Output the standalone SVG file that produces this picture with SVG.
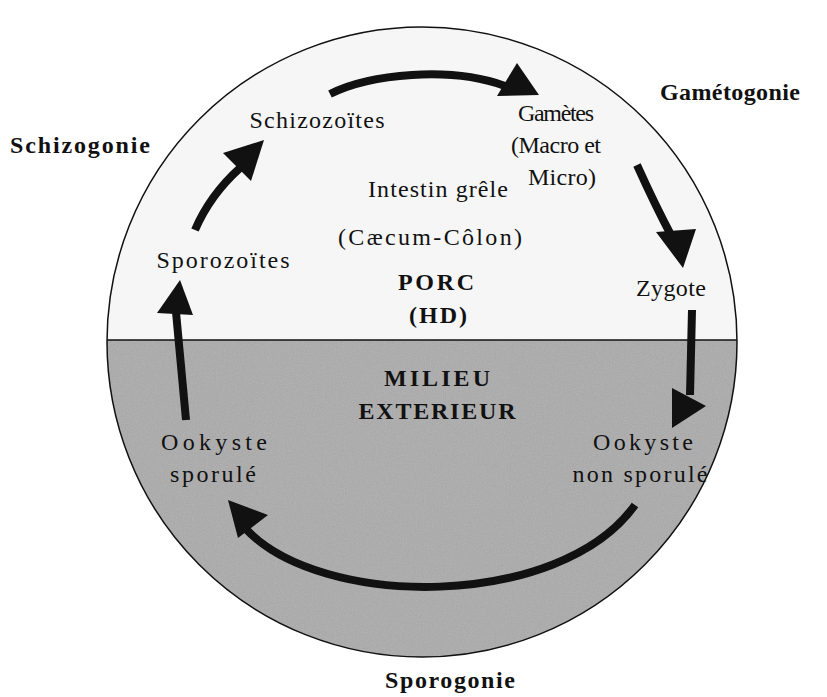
<svg xmlns="http://www.w3.org/2000/svg" width="827" height="697" viewBox="0 0 827 697">
<defs>
<style>
.t{font-family:"Liberation Serif","Times New Roman",serif;font-size:24px;fill:#111;text-anchor:middle}
.b{font-family:"Liberation Serif","Times New Roman",serif;font-size:24px;font-weight:bold;fill:#111;text-anchor:middle}
.shaft{fill:none;stroke:#111;stroke-width:8}
.head{fill:#111}
</style>
<clipPath id="circ"><circle cx="422" cy="342" r="315"/></clipPath>
<filter id="noise" x="0" y="0" width="100%" height="100%">
<feTurbulence type="fractalNoise" baseFrequency="0.9" numOctaves="2" seed="3"/>
<feColorMatrix type="saturate" values="0"/>
</filter>
</defs>
<rect width="827" height="697" fill="#ffffff"/>
<g id="background">
<circle cx="422" cy="342" r="315" fill="#f6f6f6"/>
<rect x="100" y="340" width="650" height="330" fill="#ababab" clip-path="url(#circ)"/>
<rect x="100" y="340" width="650" height="330" filter="url(#noise)" opacity="0.25" clip-path="url(#circ)"/>
<line x1="107" y1="340" x2="737" y2="340" stroke="#111" stroke-width="1.5" clip-path="url(#circ)"/>
<circle cx="422" cy="342" r="315" fill="none" stroke="#111" stroke-width="1.5"/>
</g>
<g id="connectors">
<path class="shaft" d="M330,94 C370,74 450,66 505,86"/>
<polygon class="head" points="517,63 497,96 539,95"/>
<path class="shaft" d="M195,230 Q210,195 240,168"/>
<polygon class="head" points="264,140 223,153 251,181"/>
<path class="shaft" d="M637,165 Q655,205 672,237"/>
<polygon class="head" points="656,232 696,229 683,268"/>
<path class="shaft" stroke-width="9" d="M692,310 L690,395"/>
<polygon class="head" points="672,388 706,406 672,428"/>
<path class="shaft" stroke-width="10" d="M635,505 C560,610 320,610 245,528"/>
<polygon class="head" points="228,500 268,515 238,538"/>
<path class="shaft" stroke-width="9" d="M186,420 L176,312"/>
<polygon class="head" points="180,280 157,313 193,315"/>
</g>
<g id="schizogonie"><text class="b" x="80" y="153" textLength="140">Schizogonie</text></g>
<g id="gametogonie"><text class="b" x="730" y="100" textLength="140">Gamétogonie</text></g>
<g id="sporogonie"><text class="b" x="450" y="688" textLength="130">Sporogonie</text></g>
<g id="schizozoites"><text class="t" x="317" y="128" textLength="135">Schizozoïtes</text></g>
<g id="gametes">
<text class="t" x="556" y="121" textLength="76">Gamètes</text>
<text class="t" x="556" y="153" textLength="90">(Macro et</text>
<text class="t" x="562" y="185" textLength="68">Micro)</text>
</g>
<g id="intestin">
<text class="t" x="438" y="197" textLength="140">Intestin grêle</text>
<text class="t" x="430" y="245" textLength="184">(Cæcum-Côlon)</text>
</g>
<g id="porc">
<text class="b" x="436" y="290" textLength="76">PORC</text>
<text class="b" x="438" y="323" textLength="58">(HD)</text>
</g>
<g id="sporozoites"><text class="t" x="223" y="268" textLength="133">Sporozoïtes</text></g>
<g id="zygote"><text class="t" x="671" y="296" textLength="70">Zygote</text></g>
<g id="milieu">
<text class="b" x="437" y="386" textLength="106">MILIEU</text>
<text class="b" x="437" y="419" textLength="157">EXTERIEUR</text>
</g>
<g id="ookyste-sporule">
<text class="t" x="214" y="450" textLength="106">Ookyste</text>
<text class="t" x="213" y="482" textLength="86">sporulé</text>
</g>
<g id="ookyste-non-sporule">
<text class="t" x="643" y="450" textLength="100">Ookyste</text>
<text class="t" x="640" y="482" textLength="135">non sporulé</text>
</g>
</svg>
